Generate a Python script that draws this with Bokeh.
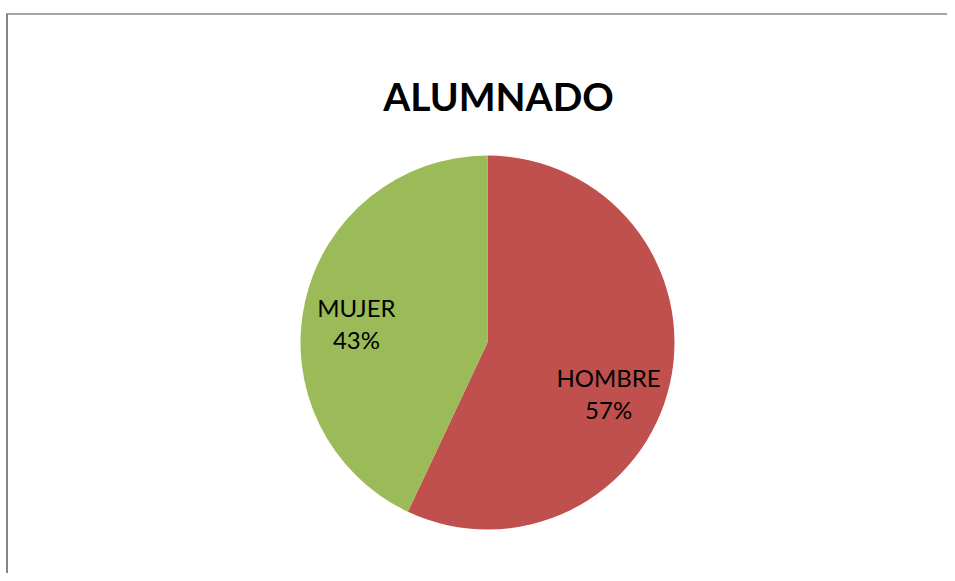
import math
from bokeh.plotting import figure
from bokeh.models import Range1d, ColumnDataSource
from bokeh.core.properties import value
from bokeh.embed import file_html
from bokeh.resources import INLINE

# ---- data ----
title_text = "ALUMNADO"
categories = ["HOMBRE", "MUJER"]
percents = [57, 43]
colors = ["#C0504D", "#9BBB59"]

# ---- layout (pixels) ----
W, H = 947, 573
cx_px, cy_px = 487, 342      # pie centre in frame pixels (from left / top)
R_px = 187                   # pie radius in pixels

x0, x1 = -cx_px / R_px, (W - cx_px) / R_px
y0, y1 = -(H - cy_px) / R_px, cy_px / R_px

p = figure(width=W, height=H, output_backend="svg", toolbar_location=None,
           x_range=Range1d(x0, x1), y_range=Range1d(y0, y1),
           min_border=0)
p.axis.visible = False
p.grid.visible = False
p.outline_line_color = None
p.background_fill_color = "white"
p.border_fill_color = "white"

# wedges, starting at 12 o'clock, clockwise
total = sum(percents)
starts, ends, lx, ly, labels = [], [], [], [], []
cum = 0.0
shift = math.radians(-3)
for cat, v in zip(categories, percents):
    a0 = math.pi / 2 - 2 * math.pi * cum / total
    cum += v
    a1 = math.pi / 2 - 2 * math.pi * cum / total
    starts.append(a0)
    ends.append(a1)
    mid = (a0 + a1) / 2 + shift
    lx.append(0.70 * math.cos(mid) - 5 / R_px)
    ly.append(0.70 * math.sin(mid) - 16 / R_px)
    labels.append(f"{cat}\n{v}%")

src = ColumnDataSource(dict(start=starts, end=ends, color=colors,
                            lx=lx, ly=ly, label=labels))
p.wedge(x=0, y=0, radius=1, start_angle="start", end_angle="end",
        direction="clock", fill_color="color", line_color=None, source=src)

p.text(x="lx", y="ly", text="label", source=src, text_align="center",
       text_baseline="middle", text_font=value("Lato"),
       text_font_size="24px", text_color="black", text_line_height=1.1)

p.text(x=[11 / R_px], y=[(cy_px - 95) / R_px], text=[title_text],
       text_align="center", text_baseline="middle", text_font=value("Lato"),
       text_font_style="bold", text_font_size="39px", text_color="black")

# chart-area border (left and top edges, the rest lies outside the view)
bx = x0 + 6.5 / R_px
by = y1 - 13.5 / R_px
p.segment(x0=[bx], y0=[by], x1=[bx], y1=[y0 - 1], line_color="#868686",
          line_width=2)
p.segment(x0=[bx - 1 / R_px], y0=[by], x1=[x1 + 1], y1=[by],
          line_color="#868686", line_width=1.5)

open("out.html", "w").write(file_html(p, INLINE))
